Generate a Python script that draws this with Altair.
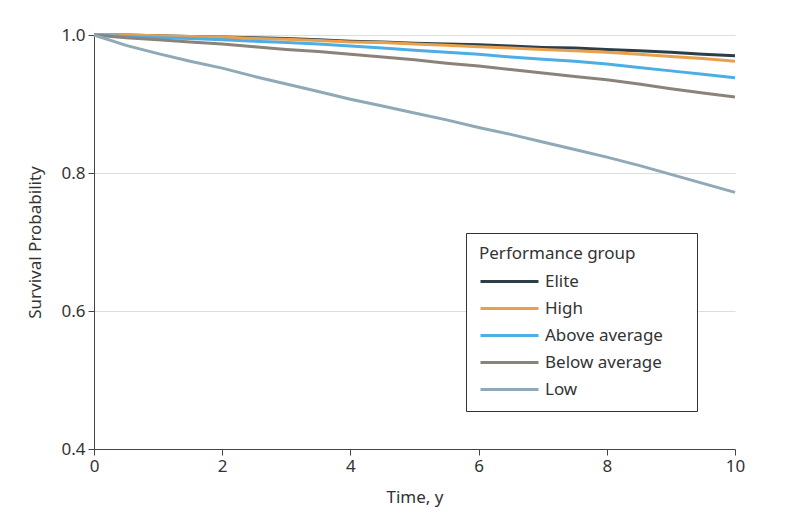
import altair as alt
import pandas as pd

times = [0, 0.5, 1, 1.5, 2, 2.5, 3, 3.5, 4, 4.5, 5, 5.5, 6, 6.5, 7, 7.5, 8, 8.5, 9, 9.5, 10]
groups = ["Elite", "High", "Above average", "Below average", "Low"]
colors = ["#2c3f48", "#e9a04c", "#4daee6", "#8b8379", "#8fa9b6"]

elite = [1.0, 1.0, 0.999, 0.998, 0.997, 0.996, 0.995, 0.993, 0.991, 0.990, 0.988,
         0.987, 0.986, 0.984, 0.982, 0.981, 0.979, 0.977, 0.975, 0.972, 0.970]
high = [1.0, 1.0, 0.999, 0.998, 0.997, 0.995, 0.994, 0.992, 0.990, 0.989, 0.987,
        0.985, 0.983, 0.981, 0.979, 0.977, 0.975, 0.972, 0.969, 0.966, 0.962]
above = [1.0, 0.998, 0.996, 0.995, 0.993, 0.991, 0.989, 0.987, 0.984, 0.981, 0.978,
         0.975, 0.972, 0.968, 0.965, 0.962, 0.958, 0.953, 0.948, 0.943, 0.938]
below = [1.0, 0.996, 0.993, 0.990, 0.987, 0.983, 0.979, 0.976, 0.972, 0.968, 0.964,
         0.959, 0.955, 0.950, 0.945, 0.940, 0.935, 0.929, 0.922, 0.916, 0.910]
low = [1.0, 0.985, 0.973, 0.962, 0.952, 0.940, 0.929, 0.918, 0.907, 0.897, 0.887,
       0.877, 0.866, 0.856, 0.845, 0.834, 0.823, 0.811, 0.798, 0.785, 0.772]

series = [elite, high, above, below, low]
rows = []
for g, vals in zip(groups, series):
    for t, v in zip(times, vals):
        rows.append({"Time": t, "Survival": v, "Group": g})
df = pd.DataFrame(rows)

FONT = "Noto Sans"
legend_title = "Performance group" + "\u2800" * 4

chart = alt.Chart(df).mark_line(strokeWidth=3, interpolate="linear").encode(
    x=alt.X("Time:Q", scale=alt.Scale(domain=[0, 10], nice=False),
            axis=alt.Axis(title="Time, y", values=[0, 2, 4, 6, 8, 10], grid=False,
                          format="d", labelFlush=False)),
    y=alt.Y("Survival:Q", scale=alt.Scale(domain=[0.4, 1.0], nice=False, zero=False),
            axis=alt.Axis(title="Survival Probability", values=[0.4, 0.6, 0.8, 1.0],
                          format=".1f", grid=True, labelFlush=False)),
    color=alt.Color("Group:N", scale=alt.Scale(domain=groups, range=colors),
                    legend=alt.Legend(title=legend_title, orient="none",
                                      legendX=372, legendY=198,
                                      symbolType="M-1,0H4.8", symbolSize=400,
                                      symbolStrokeWidth=3, labelOffset=43,
                                      padding=13, strokeColor="#333333",
                                      fillColor="white", rowPadding=7,
                                      titlePadding=7, titleLimit=400)),
    order=alt.Order("Group:N", sort="descending"),
).properties(
    width=641, height=414,
    autosize=alt.AutoSizeParams(type="none"),
    padding={"left": 86, "top": 27, "right": 57, "bottom": 67},
).configure_view(stroke=None).configure_axis(
    labelFont=FONT, titleFont=FONT, labelFontSize=17, titleFontSize=17,
    labelColor="#333333", titleColor="#333333", titleFontWeight="normal",
    domainColor="#444444", tickColor="#444444", tickSize=6, gridColor="#dddddd",
    labelPadding=3,
).configure_axisY(titlePadding=16).configure_axisX(titlePadding=15).configure_legend(
    labelFont=FONT, titleFont=FONT, labelFontSize=17, titleFontSize=17,
    labelColor="#333333", titleColor="#333333", titleFontWeight="normal",
)

chart.save("out.html", embed_options={"renderer": "svg", "actions": False})
